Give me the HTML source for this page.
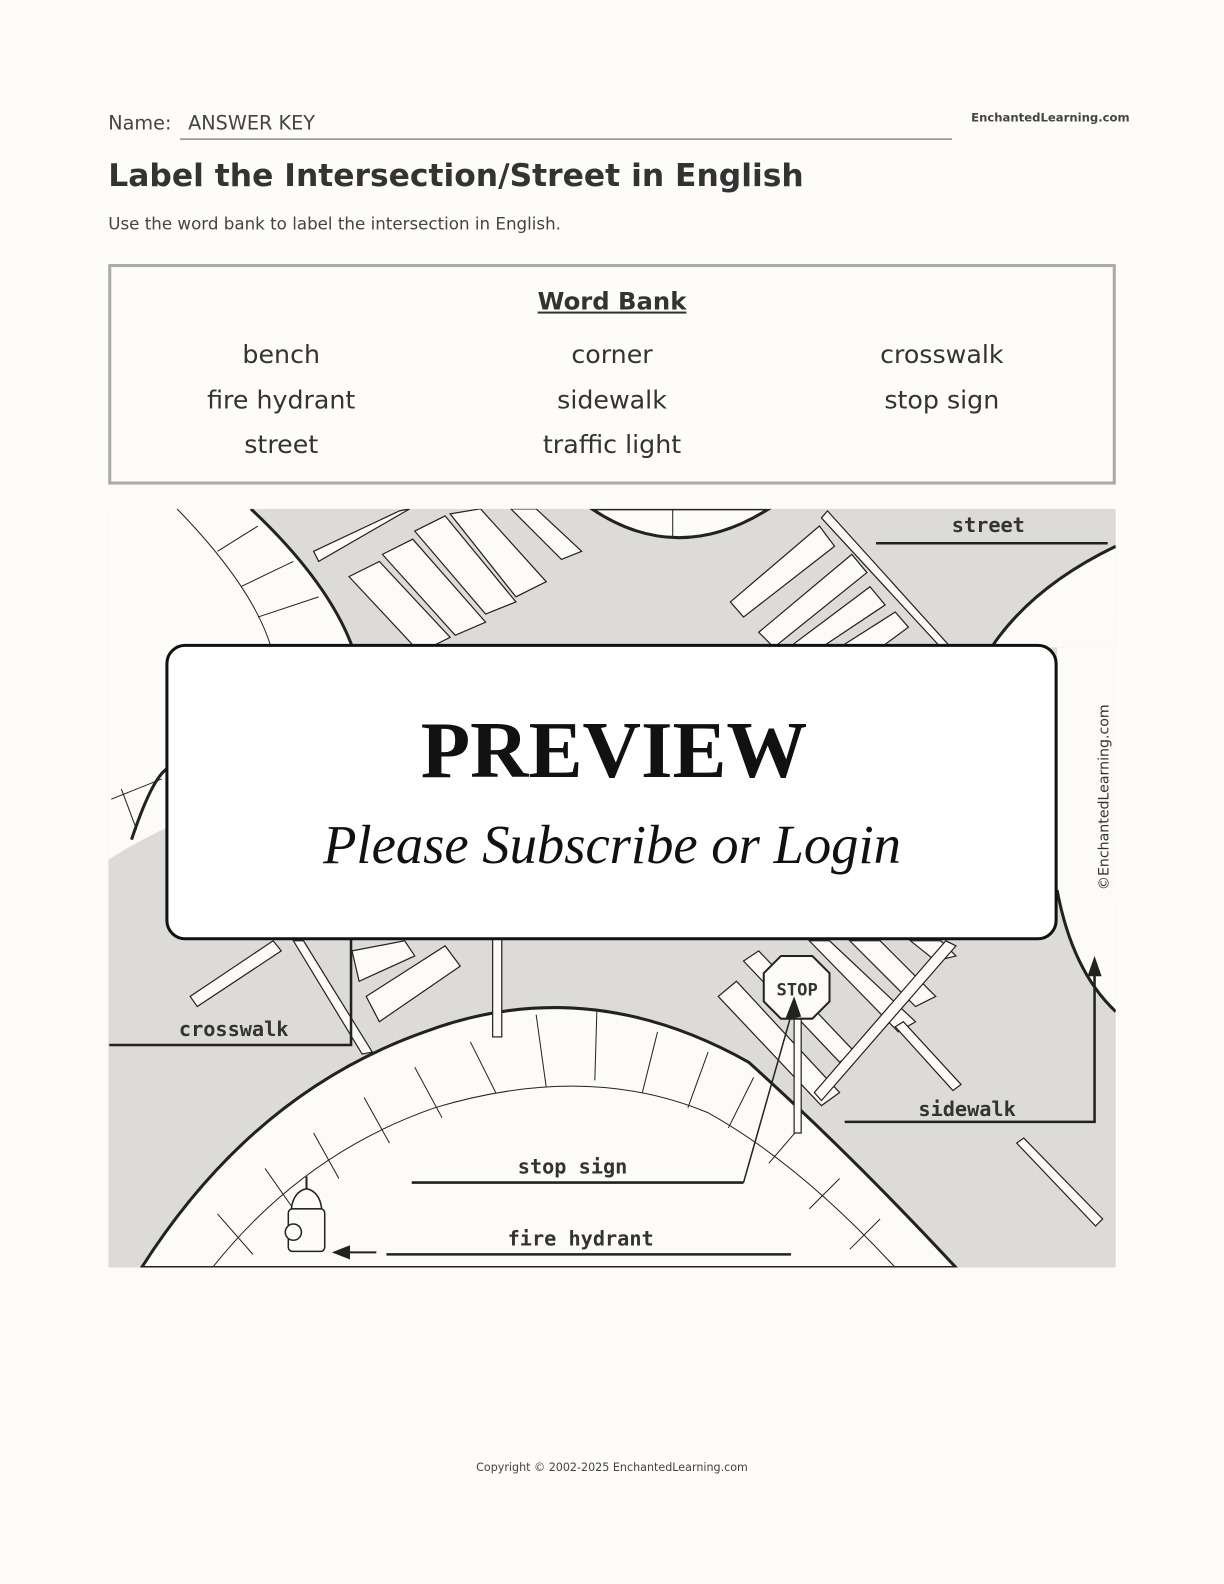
<!DOCTYPE html>
<html><head><meta charset="utf-8">
<style>
html,body{margin:0;padding:0;width:1224px;height:1584px;overflow:hidden;background:#fdfcf8;}
.p{position:relative;width:1210px;height:1566px;transform:scale(1.0116);transform-origin:0 0;font-family:"DejaVu Sans","Liberation Sans",sans-serif;color:#333;}
.cm{font-family:"DejaVu Sans","Liberation Sans",sans-serif;}
</style></head><body><div class="p">
<div class="cm" style="position:absolute;left:107px;top:111px;font-size:19px;color:#444">Name:</div>
<div class="cm" style="position:absolute;left:186px;top:111px;font-size:19px;color:#444">ANSWER KEY</div>
<div style="position:absolute;left:178px;top:137px;width:763px;border-top:1px solid #555"></div>
<div class="cm" style="position:absolute;left:960px;top:109px;font-size:11.5px;font-weight:bold;color:#444">EnchantedLearning.com</div>
<div class="cm" style="position:absolute;left:107px;top:156px;font-size:31px;font-weight:bold;color:#333">Label the Intersection/Street in English</div>
<div class="cm" style="position:absolute;left:107px;top:212px;font-size:16.5px;color:#444">Use the word bank to label the intersection in English.</div>
<div style="position:absolute;left:107px;top:261px;width:990px;height:212px;border:3px solid #aaa"></div>
<div class="cm" style="position:absolute;left:0;width:1210px;top:284px;text-align:center;font-size:24px;font-weight:bold;text-decoration:underline;color:#333">Word Bank</div>
<div class="cm" style="position:absolute;top:329px;left:0;font-size:25px;color:#333;line-height:44.5px">
<div style="position:absolute;left:128px;width:300px;text-align:center">bench<br>fire hydrant<br>street</div>
<div style="position:absolute;left:455px;width:300px;text-align:center">corner<br>sidewalk<br>traffic light</div>
<div style="position:absolute;left:781px;width:300px;text-align:center">crosswalk<br>stop sign</div>
</div>
<svg style="position:absolute;left:0;top:0" width="1224" height="1584">
<defs><clipPath id="c"><rect x="107" y="503" width="996" height="750"/></clipPath></defs>
<g clip-path="url(#c)" stroke="#222" fill="none">
<rect x="107" y="503" width="996" height="750" fill="#dcdbd7" stroke="none"/>
<path d="M107,503 L248,503 Q330,580 352,650 L352,760 Q200,790 107,850 Z" fill="#fcfbf7" stroke="none"/>
<path d="M248,503 Q330,580 352,650" stroke-width="3"/>
<path d="M130,830 Q150,770 165,760" stroke-width="3"/>
<path d="M175,503 Q250,580 268,640" stroke-width="1"/>
<g stroke-width="1"><line x1="215" y1="545" x2="255" y2="520"/><line x1="238" y1="580" x2="290" y2="555"/><line x1="255" y1="610" x2="315" y2="590"/><line x1="110" y1="790" x2="160" y2="770"/><line x1="120" y1="780" x2="135" y2="820"/></g>
<path d="M585,503 Q670,560 760,503 Z" fill="#fcfbf7" stroke-width="3"/>
<line x1="665" y1="503" x2="665" y2="530" stroke-width="1"/>
<path d="M1103,540 Q1020,580 980,640 L1103,640 Z" fill="#fcfbf7" stroke="none"/>
<path d="M1103,540 Q1020,580 980,640" stroke-width="3"/>
<rect x="1045" y="640" width="60" height="250" fill="#fcfbf7" stroke="none"/>
<path d="M1045,880 Q1060,960 1103,1000 L1103,880 Z" fill="#fcfbf7" stroke="none"/>
<path d="M1045,880 Q1060,960 1103,1000" stroke-width="3"/>
<path d="M140,1253 Q250,1080 420,1020 Q580,960 740,1050 Q840,1140 945,1253 Z" fill="#fcfbf7" stroke-width="3"/>
<path d="M210,1253 Q300,1140 430,1095 Q580,1050 700,1100 Q790,1150 885,1253" stroke-width="1"/>
<g stroke-width="1">
<line x1="215" y1="1200" x2="250" y2="1240"/><line x1="262" y1="1155" x2="290" y2="1195"/><line x1="310" y1="1120" x2="335" y2="1165"/><line x1="360" y1="1085" x2="385" y2="1130"/><line x1="410" y1="1055" x2="437" y2="1105"/><line x1="465" y1="1030" x2="490" y2="1080"/><line x1="530" y1="1003" x2="540" y2="1075"/><line x1="590" y1="1000" x2="588" y2="1068"/><line x1="650" y1="1020" x2="635" y2="1080"/><line x1="700" y1="1040" x2="680" y2="1095"/><line x1="745" y1="1065" x2="720" y2="1115"/><line x1="790" y1="1115" x2="760" y2="1150"/><line x1="830" y1="1165" x2="800" y2="1195"/><line x1="870" y1="1205" x2="840" y2="1235"/>
</g>
<g fill="#fcfbf7" stroke-width="1.2">
<polygon points="345,570 375,555 445,630 415,645"/><polygon points="378,548 408,533 480,615 450,628"/><polygon points="410,525 440,510 510,595 480,607"/><polygon points="445,508 475,503 540,575 510,590"/><polygon points="505,503 530,503 575,545 555,553"/>
<polygon points="315,555 310,545 395,505 405,503"/>
<polygon points="722,595 810,520 825,540 735,610"/><polygon points="750,625 842,548 857,566 765,640"/><polygon points="780,640 860,580 875,598 800,648"/><polygon points="830,640 885,605 898,620 860,648"/>
<polygon points="812,512 818,505 940,640 930,640"/>
<polygon points="362,985 440,935 455,955 375,1010"/><polygon points="348,940 400,930 410,945 355,970"/>
<polygon points="188,985 270,930 278,940 195,995"/>
<polygon points="290,930 300,930 368,1040 358,1042"/>
<polygon points="710,985 728,970 830,1080 812,1093"/><polygon points="735,950 750,940 845,1040 830,1050"/>
<polygon points="800,930 820,930 905,1010 888,1020"/><polygon points="840,930 870,930 925,985 905,995"/><polygon points="900,930 930,930 945,945 925,950"/>
<polygon points="805,1080 935,930 945,935 812,1088"/>
<polygon points="885,1015 893,1010 950,1072 942,1078"/>
<polygon points="1005,1130 1012,1125 1090,1205 1083,1212"/>
</g>
<rect x="487" y="928" width="9" height="97" fill="#fcfbf7" stroke-width="1.2"/>
<rect x="785" y="995" width="7" height="125" fill="#fcfbf7" stroke-width="1.2"/>
<polygon points="772,945 803,945 820,962 820,990 803,1007 772,1007 755,990 755,962" fill="#fcfbf7" stroke-width="2"/>
<path d="M288,1195 Q290,1178 303,1175 Q316,1178 318,1195 Z" fill="#fcfbf7" stroke-width="1.5"/>
<rect x="285" y="1195" width="36" height="42" rx="4" fill="#fcfbf7" stroke-width="1.5"/>
<circle cx="290" cy="1218" r="8" fill="#fcfbf7" stroke-width="1.5"/>
<line x1="303" y1="1163" x2="303" y2="1176" stroke-width="2"/>
<g stroke-width="2.5">
<line x1="866" y1="537" x2="1095" y2="537"/>
<polyline points="108,1033 347,1033 347,928"/>
<line x1="407" y1="1169" x2="735" y2="1169"/>
<line x1="382" y1="1240" x2="782" y2="1240"/>
<polyline points="835,1109 1082,1109 1082,960"/>
</g>
<line x1="735" y1="1169" x2="783" y2="1000" stroke-width="1.5"/>
<line x1="345" y1="1238" x2="372" y2="1238" stroke-width="2"/>
</g>
<g fill="#222">
<polygon points="1082,945 1075,965 1089,965"/>
<polygon points="785,985 776,1008 792,1005"/>
<polygon points="328,1238 346,1231 346,1245"/>
</g>
<g font-family="DejaVu Sans Mono,Liberation Mono,monospace" font-weight="bold" font-size="20" fill="#333" text-anchor="middle">
<text x="977" y="526">street</text>
<text x="231" y="1024">crosswalk</text>
<text x="566" y="1160">stop sign</text>
<text x="574" y="1231">fire hydrant</text>
<text x="956" y="1103">sidewalk</text>
<text x="788" y="984" font-size="17">STOP</text>
</g>
<text transform="translate(1096,880) rotate(-90)" font-family="DejaVu Sans,sans-serif" font-size="14" fill="#333">©EnchantedLearning.com</text>
<rect x="165" y="638" width="879" height="290" rx="18" fill="#fff" stroke="#111" stroke-width="3"/>
<text x="607" y="768" text-anchor="middle" font-family="Liberation Serif,serif" font-weight="bold" font-size="80" fill="#111">PREVIEW</text>
<text x="605" y="853" text-anchor="middle" font-family="Liberation Serif,serif" font-style="italic" font-size="54" fill="#111">Please Subscribe or Login</text>
</svg>
<div style="position:absolute;left:0;width:1210px;top:1444px;text-align:center;font-size:11px;color:#444" class="cm">Copyright © 2002-2025 EnchantedLearning.com</div>
</div></body></html>
